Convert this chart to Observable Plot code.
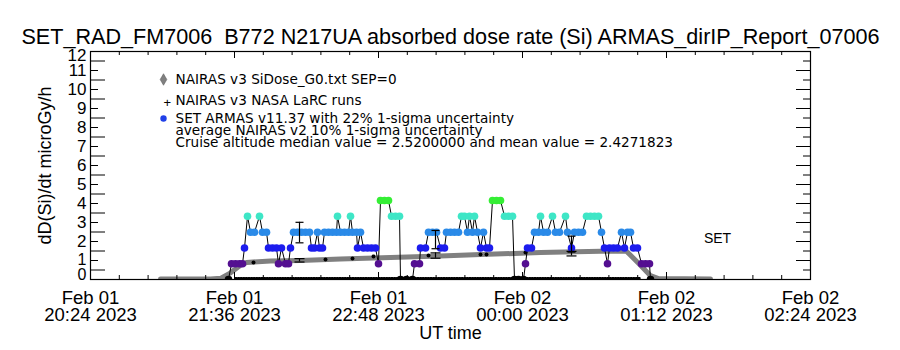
<!DOCTYPE html>
<html><head><meta charset="utf-8">
<script src="https://cdn.jsdelivr.net/npm/d3@7"></script>
<script src="https://cdn.jsdelivr.net/npm/@observablehq/plot@0.6"></script>
<style>body{margin:0;background:#fff}svg{display:block}</style>
</head><body><div id="chart"></div>
<script>
const title = "SET_RAD_FM7006  B772 N217UA absorbed dose rate (Si) ARMAS_dirIP_Report_07006";
const yLabel = "dD(Si)/dt microGy/h";
const xLabel = "UT time";
const xTickDates = ["Feb 01", "Feb 01", "Feb 01", "Feb 02", "Feb 02", "Feb 02"];
const xTickTimes = ["20:24 2023", "21:36 2023", "22:48 2023", "00:00 2023", "01:12 2023", "02:24 2023"];
const yTicks = [0, 1, 2, 3, 4, 5, 6, 7, 8, 9, 10, 11, 12];
const legendLabels = ["NAIRAS v3 SiDose_G0.txt SEP=0", "NAIRAS v3 NASA LaRC runs", "SET ARMAS v11.37 with 22% 1-sigma uncertainty"];
const legendNotes = ["average NAIRAS v2 10% 1-sigma uncertainty", "Cruise altitude median value = 2.5200000 and mean value = 2.4271823"];
const sideLabel = "SET";
const startUT = "2023-02-01T20:24:00Z";
const spanMinutes = 360;

// ARMAS dose-rate levels and their colours
const armasLevels = [0, 0.83, 1.66, 2.49, 3.33, 4.16];
const armasColors = ["#000000", "#540f91", "#1c1cee", "#2a8ae8", "#3ee6c6", "#35ee35"];

// SET ARMAS samples: [minutes after 20:24 UT, dose rate]
const armas = [
 [69,0],[70.5,0.83],[72.5,0.83],[74.5,0.83],[76,0.83],[77,1.66],[78.5,3.33],[80,2.49],[82,2.49],[84.5,3.33],
 [86,2.49],[88,2.49],[89,1.66],[91,1.66],[93,1.66],[94,0.83],[95.5,1.66],[97.5,0.83],[99,0.83],[100,1.66],
 [101.5,2.49],[103.5,2.49],[105.5,2.49],[107.5,2.49],[109.5,2.49],[110.5,1.66],[112,1.66],[113.5,2.49],[114.5,1.66],[116,1.66],
 [117,2.49],[119,2.49],[121,2.49],[123,2.49],[123.5,3.33],[125,2.49],[127,2.49],[129,2.49],[130,3.33],[131,2.49],
 [133,2.49],[133.5,1.66],[135,2.49],[136.5,1.66],[138.5,1.66],[140.5,1.66],[142.5,1.66],[144,0.83],[145,4.16],[147,4.16],
 [149,4.16],[150.5,3.33],[152.5,3.33],[154.5,3.33],[155,0],[158,0],[161,0],[162,0.83],[164.5,0.83],[165,1.66],
 [167.5,1.66],[169,2.49],[171,2.49],[173,2.49],[175,1.66],[177,1.66],[178,2.49],[180,2.49],[182,2.49],[184,2.49],
 [185.5,3.33],[187,3.33],[188.5,2.49],[189.5,3.33],[191,2.49],[192,3.33],[193.5,2.49],[195,1.66],[196.5,2.49],[198,1.66],
 [199.5,1.66],[201,4.16],[203,4.16],[205,4.16],[207,3.33],[209,3.33],[211,3.33],[212,0],[214,0],[216.5,0],
 [217.5,0.83],[218.5,1.66],[220.5,1.66],[222,2.49],[224,2.49],[225,3.33],[226.5,2.49],[228.5,2.49],[231,3.33],[232.5,2.49],
 [234.5,2.49],[237.5,3.33],[238.5,2.49],[240.5,1.66],[242,2.49],[244,2.49],[246,2.49],[248,3.33],[250,3.33],[252,3.33],
 [254,3.33],[255.5,2.49],[257,1.66],[258.5,0.83],[259.5,1.66],[261.5,1.66],[263.5,1.66],[265.5,2.49],[267,1.66],[268.5,2.49],
 [270,2.49],[271.5,1.66],[273.5,1.66],[275.5,0.83],[277.5,0.83],[279.5,0.83],[280,0]
];

// NAIRAS v3 SiDose_G0 trace: [minutes, dose rate]
const nairasG0 = [
 [35,0.02],[60,0.03],[65,0.06],[70,0.35],[75,0.75],[78,0.9],[90,0.97],[105,1.0],[125,1.08],[150,1.16],
 [175,1.24],[195,1.31],[225,1.42],[255,1.49],[268,1.49],[274,0.85],[280,0.2],[284,0.05],[310,0.02]
];
// NAIRAS v3 NASA LaRC runs: [minutes, dose rate]
const nairasLaRC = [[81.5,0.89],[117.5,1.05],[131,1.1],[141.5,1.21],[169,1.26],[195,1.32],[198,1.32],[217.5,1.42]];
// near-zero dotted trace along the floor: [minutes, dose rate]
const floorTrace = [[72.5,0.07],[275,0.07]];

// uncertainty bars: [minutes, low, high]
const armasErr = [[104.5,1.93,3.01],[172.5,1.62,2.58],[240.5,1.44,2.28]];
const nairasErr = [[104.5,0.92,1.1],[172.5,1.12,1.4],[240.5,1.24,1.48]];

const t0 = new Date(startUT);
const T = m => new Date(+t0 + m * 60000);
const tEnd = T(spanMinutes);
const majorTicks = d3.range(0, spanMinutes + 1, 72).map(T);
const minorTicks = d3.range(0, 26).map(i => T(i * 14.4));
const H = 350, MT = 51, MB = 71, ML = 90, MR = 90;
const FH = H - MT - MB, FW = 900 - ML - MR;
const halfTicks = d3.range(0.5, 12, 1);
const intTicks = d3.range(1, 12, 1);

const hbar = {draw(ctx, size) { const w = Math.sqrt(size / Math.PI); ctx.moveTo(-w, 0); ctx.lineTo(w, 0); }};
const FONT = "Liberation Sans";
const LFONT = "DejaVu Sans";
const legendDy = [28, 49, 67];
const noteDy = [79, 91];
const lbl = {lineAnchor: "middle"};

const chart = Plot.plot({
  width: 900, height: H,
  marginTop: MT, marginBottom: MB, marginLeft: ML, marginRight: MR,
  style: {fontFamily: FONT, background: "white", color: "black"},
  x: {type: "utc", domain: [t0, tEnd], axis: null},
  y: {domain: [0, 12], axis: null},
  color: {type: "ordinal", domain: armasLevels, range: armasColors},
  marks: [
    // NAIRAS traces
    Plot.line(nairasG0, {x: d => T(d[0]), y: d => d[1], stroke: "url(#checker)", strokeWidth: 5, clip: true}),
    Plot.line(floorTrace, {x: d => T(d[0]), y: d => d[1], stroke: "black", strokeWidth: 2.5, strokeDasharray: "1 1.6"}),
    Plot.dot(nairasLaRC, {x: d => T(d[0]), y: d => d[1], r: 2, fill: "black"}),
    // ARMAS
    Plot.line(armas, {x: d => T(d[0]), y: d => d[1], stroke: "black", strokeWidth: 1}),
    Plot.dot(armas, {x: d => T(d[0]), y: d => d[1], fill: d => d[1], r: 3.8, clip: true}),
    // error bars
    Plot.ruleX(armasErr, {x: d => T(d[0]), y1: d => d[1], y2: d => d[2], stroke: "black", strokeWidth: 1.2}),
    Plot.dot(armasErr, {x: d => T(d[0]), y: d => d[1], symbol: hbar, r: 4, stroke: "black", strokeWidth: 1.2}),
    Plot.dot(armasErr, {x: d => T(d[0]), y: d => d[2], symbol: hbar, r: 4, stroke: "black", strokeWidth: 1.2}),
    Plot.ruleX(nairasErr, {x: d => T(d[0]), y1: d => d[1], y2: d => d[2], stroke: "black", strokeWidth: 1.2}),
    Plot.dot(nairasErr, {x: d => T(d[0]), y: d => d[1], symbol: hbar, r: 5, stroke: "black", strokeWidth: 1.2}),
    Plot.dot(nairasErr, {x: d => T(d[0]), y: d => d[2], symbol: hbar, r: 5, stroke: "black", strokeWidth: 1.2}),
    // frame and ticks
    Plot.frame({stroke: "black", strokeWidth: 1.2}),
    Plot.ruleX(minorTicks, {x: d => d, insetTop: FH - 4, stroke: "black"}),
    Plot.ruleX(minorTicks, {x: d => d, insetBottom: FH - 4, stroke: "black"}),
    Plot.ruleX(majorTicks, {x: d => d, insetTop: FH - 7, stroke: "black"}),
    Plot.ruleX(majorTicks, {x: d => d, insetBottom: FH - 7, stroke: "black"}),
    Plot.ruleY(halfTicks, {y: d => d, insetRight: FW - 15, stroke: "black"}),
    Plot.ruleY(intTicks, {y: d => d, insetRight: FW - 8, stroke: "black"}),
    Plot.ruleY(intTicks, {y: d => d, insetLeft: FW - 14, stroke: "black"}),
    Plot.ruleY(halfTicks, {y: d => d, insetLeft: FW - 7, stroke: "black"}),
    // tick labels
    Plot.text(yTicks.filter(d => d > 1 && d < 12), {...lbl, y: d => d, text: d => String(d), frameAnchor: "left", dx: -4, textAnchor: "end", fontSize: 17}),
    Plot.text([1], {...lbl, y: d => d, text: d => String(d), frameAnchor: "left", dx: -4, dy: -1, textAnchor: "end", fontSize: 16}),
    Plot.text([12], {...lbl, y: d => d, text: d => String(d), frameAnchor: "left", dx: -4, dy: 4, textAnchor: "end", fontSize: 17}),
    Plot.text([0], {...lbl, y: d => d, text: d => String(d), frameAnchor: "left", dx: -4, dy: -5, textAnchor: "end", fontSize: 16}),
    Plot.text(xTickDates, {...lbl, x: (d, i) => majorTicks[i], text: d => d, frameAnchor: "bottom", dy: 19, fontSize: 18.5}),
    Plot.text(xTickTimes, {...lbl, x: (d, i) => majorTicks[i], text: d => d, frameAnchor: "bottom", dy: 36, fontSize: 18.5}),
    Plot.text([xLabel], {...lbl, text: d => d, frameAnchor: "bottom", dy: 54, fontSize: 18}),
    Plot.text([yLabel], {...lbl, text: d => d, frameAnchor: "left", dx: -45, rotate: -90, textAnchor: "middle", fontSize: 18}),
    Plot.text([title], {...lbl, text: d => d, frameAnchor: "top", dy: -14, fontSize: 21.6}),
    // legend
    Plot.dot([0], {frameAnchor: "top-left", dx: 73, dy: 28, symbol: "diamond", r: 3.5, fill: "url(#checker)", stroke: "#555", strokeWidth: 0.5}),
    Plot.text(["+"], {...lbl, text: d => d, frameAnchor: "top-left", dx: 73, dy: 51, fontSize: 13}),
    Plot.dot([0], {frameAnchor: "top-left", dx: 73, dy: 67, r: 3.2, fill: "#2040e8"}),
    ...legendLabels.map((t, i) => Plot.text([t], {...lbl, text: d => d, frameAnchor: "top-left", dx: 85, dy: legendDy[i], fontSize: 13.6, fontFamily: LFONT, textAnchor: "start"})),
    ...legendNotes.map((t, i) => Plot.text([t], {...lbl, text: d => d, frameAnchor: "top-left", dx: 85, dy: noteDy[i], fontSize: 13.6, fontFamily: LFONT, textAnchor: "start"})),
    Plot.text([sideLabel], {...lbl, text: d => d, frameAnchor: "top-left", dx: 627, dy: 187, fontSize: 14, textAnchor: "middle"})
  ]
});
document.getElementById("chart").appendChild(chart);
const svg = d3.select(chart);
svg.insert("defs", ":first-child").html('<pattern id="checker" width="2" height="2" patternUnits="userSpaceOnUse"><rect width="2" height="2" fill="white"/><rect width="1" height="1" fill="black"/><rect x="1" y="1" width="1" height="1" fill="black"/></pattern>');
</script></body></html>
